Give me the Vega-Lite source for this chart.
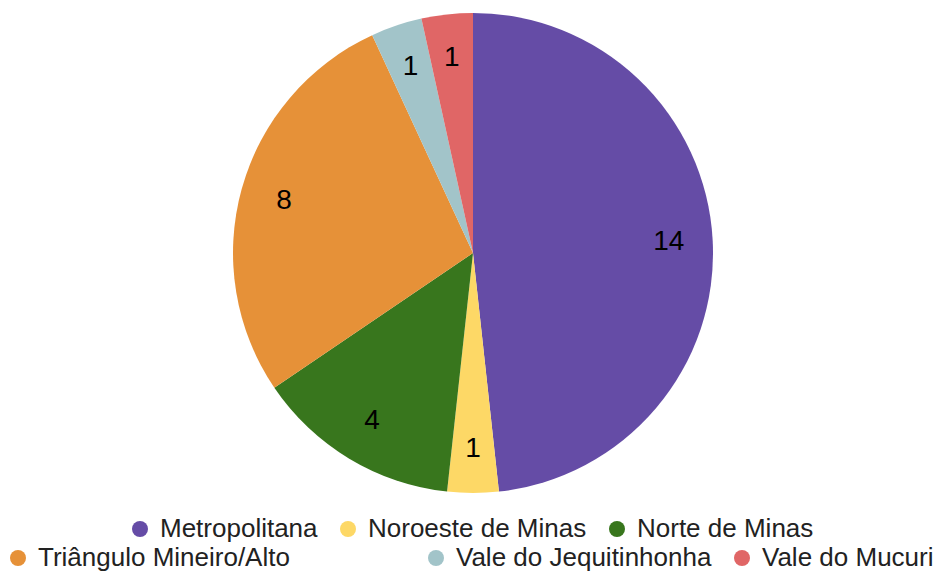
{
  "$schema": "https://vega.github.io/schema/vega-lite/v6.json",
  "width": 928,
  "height": 506,
  "autosize": {"type": "none"},
  "padding": {"left": 9, "top": 0, "right": 0, "bottom": 66},
  "background": "white",
  "datasets": {
    "regions": [
      {"region": "Metropolitana", "count": 14},
      {"region": "Noroeste de Minas", "count": 1},
      {"region": "Norte de Minas", "count": 4},
      {"region": "Triângulo Mineiro/Alto", "count": 8},
      {"region": "Vale do Jequitinhonha", "count": 1},
      {"region": "Vale do Mucuri", "count": 1}
    ]
  },
  "data": {"name": "regions"},
  "layer": [
    {
      "mark": {"type": "arc", "outerRadius": 240},
      "encoding": {
        "theta": {"field": "count", "type": "quantitative", "stack": true},
        "order": {"field": "region", "type": "ordinal", "sort": "ascending"},
        "color": {
          "field": "region",
          "type": "nominal",
          "scale": {
            "domain": ["Metropolitana", "Noroeste de Minas", "Norte de Minas", "Triângulo Mineiro/Alto", "Vale do Jequitinhonha", "Vale do Mucuri"],
            "range": ["#654ca6", "#fdd866", "#38761d", "#e69138", "#a2c4c9", "#e06666"]
          },
          "legend": null
        }
      }
    },
    {
      "mark": {"type": "text", "radius": 196, "fontSize": 28, "font": "Liberation Sans", "color": "#000000"},
      "encoding": {
        "theta": {"field": "count", "type": "quantitative", "stack": true},
        "order": {"field": "region", "type": "ordinal", "sort": "ascending"},
        "detail": {"field": "region", "type": "nominal"},
        "text": {"field": "count", "type": "quantitative"}
      }
    },
    {
      "transform": [{"filter": {"field": "region", "oneOf": ["Metropolitana", "Noroeste de Minas", "Norte de Minas"]}}],
      "mark": {"type": "arc", "opacity": 0, "outerRadius": 1},
      "encoding": {
        "color": {
          "field": "region",
          "type": "nominal",
          "scale": {"domain": ["Metropolitana", "Noroeste de Minas", "Norte de Minas"], "range": ["#654ca6", "#fdd866", "#38761d"]},
          "legend": {"orient": "none", "legendX": 118, "legendY": 516, "direction": "horizontal", "title": null}
        }
      }
    },
    {
      "transform": [{"filter": {"field": "region", "oneOf": ["Triângulo Mineiro/Alto"]}}],
      "mark": {"type": "arc", "opacity": 0, "outerRadius": 1},
      "encoding": {
        "color": {
          "field": "region",
          "type": "nominal",
          "scale": {"domain": ["Triângulo Mineiro/Alto"], "range": ["#e69138"]},
          "legend": {"orient": "none", "legendX": -4, "legendY": 545, "direction": "horizontal", "title": null}
        }
      }
    },
    {
      "transform": [{"filter": {"field": "region", "oneOf": ["Vale do Jequitinhonha", "Vale do Mucuri"]}}],
      "mark": {"type": "arc", "opacity": 0, "outerRadius": 1},
      "encoding": {
        "color": {
          "field": "region",
          "type": "nominal",
          "scale": {"domain": ["Vale do Jequitinhonha", "Vale do Mucuri"], "range": ["#a2c4c9", "#e06666"]},
          "legend": {"orient": "none", "legendX": 414, "legendY": 545, "direction": "horizontal", "title": null}
        }
      }
    }
  ],
  "resolve": {"scale": {"color": "independent"}},
  "config": {
    "view": {"stroke": null},
    "legend": {
      "labelFont": "Liberation Sans",
      "labelFontSize": 26,
      "labelColor": "#222222",
      "labelLimit": 400,
      "symbolType": "circle",
      "symbolSize": 256,
      "symbolStrokeWidth": 0,
      "symbolOpacity": 1,
      "labelOffset": 7,
      "columnPadding": 17,
      "padding": 0
    }
  }
}
